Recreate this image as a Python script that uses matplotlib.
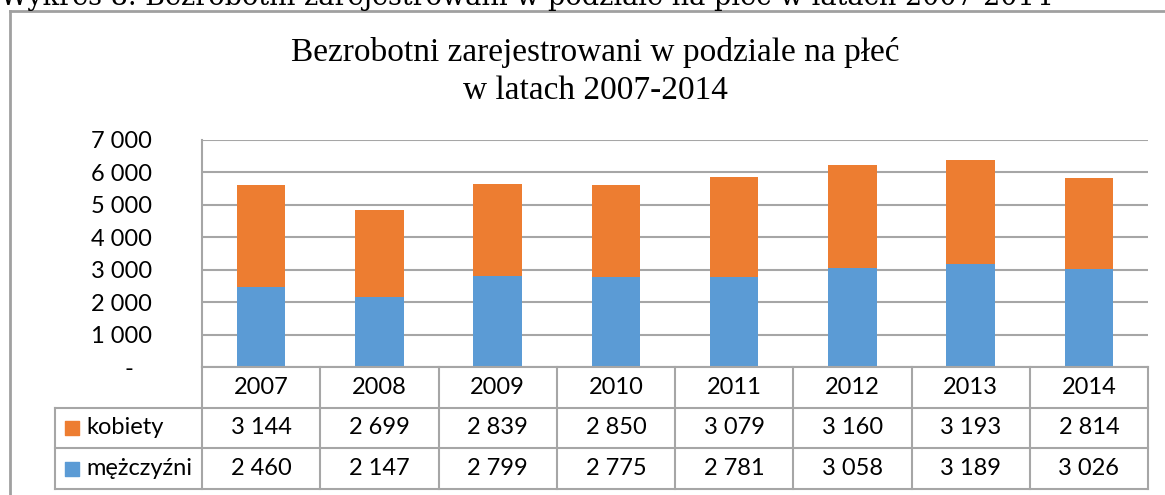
import matplotlib
matplotlib.use("Agg")
import matplotlib.pyplot as plt
from matplotlib.lines import Line2D
from matplotlib.ticker import FuncFormatter

# dane
years = ["2007", "2008", "2009", "2010", "2011", "2012", "2013", "2014"]
kobiety = [3144, 2699, 2839, 2850, 3079, 3160, 3193, 2814]
mezczyzni = [2460, 2147, 2799, 2775, 2781, 3058, 3189, 3026]
series_names = ["kobiety", "mężczyźni"]
yticks = [0, 1000, 2000, 3000, 4000, 5000, 6000, 7000]

BLUE = "#5B9BD5"
ORANGE = "#ED7D31"
GRID = "#A6A6A6"
FRAME = "#A0A0A0"
SANS = ["Lato", "DejaVu Sans"]

W, H = 1165, 495
fig = plt.figure(figsize=(W / 100, H / 100), dpi=100)


def fx(px):
    return px / W


def fy(py):
    return 1 - py / H


def fmt(v):
    return f"{v:,}".replace(",", " ")


# podpis nad wykresem (ucięty u góry)
fig.text(fx(0), fy(5), "Wykres 8. Bezrobotni zarejestrowani w podziale na płeć w latach 2007-2014",
         family="DejaVu Serif", fontsize=19.5, ha="left", va="baseline")

# ramka obszaru wykresu
fig.add_artist(Line2D([fx(10), fx(1165)], [fy(11), fy(11)], color=FRAME, lw=2))
fig.add_artist(Line2D([fx(10), fx(10)], [fy(11), fy(495)], color=FRAME, lw=2))

# tytuł (dwie linie)
fig.text(fx(595), fy(61), "Bezrobotni zarejestrowani w podziale na płeć",
         family="Liberation Serif", fontsize=24, ha="center", va="baseline")
fig.text(fx(595), fy(99), "w latach 2007-2014",
         family="Liberation Serif", fontsize=24, ha="center", va="baseline")

# słupki
ax = fig.add_axes([fx(202), fy(367), fx(1148) - fx(202), (367 - 140) / H])
x = list(range(len(years)))
ax.bar(x, mezczyzni, width=0.41, color=BLUE, zorder=3)
ax.bar(x, kobiety, width=0.41, bottom=mezczyzni, color=ORANGE, zorder=3)
ax.set_xlim(-0.5, len(years) - 0.5)
ax.set_ylim(0, 7000)
ax.set_yticks(yticks)
ax.yaxis.set_major_formatter(FuncFormatter(lambda v, p: "-   " if v == 0 else fmt(int(v))))
ax.yaxis.grid(True, color=GRID, lw=1.5, zorder=0)
ax.set_xticks([])
ax.tick_params(axis="y", length=0, pad=36, labelsize=17)
for lab in ax.get_yticklabels():
    lab.set_family(SANS)
for s in ["top", "right", "bottom"]:
    ax.spines[s].set_visible(False)
ax.spines["left"].set_color(GRID)
ax.spines["left"].set_linewidth(1.5)

# tabela danych
tab = fig.add_axes([fx(202), fy(489), fx(1148) - fx(202), (489 - 367) / H])
tab.set_xlim(-0.5, len(years) - 0.5)
tab.set_ylim(3, 0)
tab.axis("off")
unit = (1148 - 202) / len(years)
lx = -0.5 - (202 - 55) / unit
lw = 1.5
tab.plot([-0.5, len(years) - 0.5], [0, 0], color=GRID, lw=lw, clip_on=False)
for r in [1, 2, 3]:
    tab.plot([lx, len(years) - 0.5], [r, r], color=GRID, lw=lw, clip_on=False)
for i in range(len(years) + 1):
    tab.plot([i - 0.5, i - 0.5], [0, 3], color=GRID, lw=lw, clip_on=False)
tab.plot([lx, lx], [1, 3], color=GRID, lw=lw, clip_on=False)

for i, yr in enumerate(years):
    tab.text(i, 0.5, yr, ha="center", va="center", fontsize=17, family=SANS)
    tab.text(i, 1.5, fmt(kobiety[i]), ha="center", va="center", fontsize=17, family=SANS)
    tab.text(i, 2.5, fmt(mezczyzni[i]), ha="center", va="center", fontsize=17, family=SANS)

sq_x = -0.5 - (202 - 71.5) / unit
txt_x = -0.5 - (202 - 86) / unit
for r, (name, col) in enumerate(zip(series_names, [ORANGE, BLUE]), start=1):
    tab.scatter([sq_x], [r + 0.5], marker="s", s=115, color=col, clip_on=False)
    tab.text(txt_x, r + 0.5, name, ha="left", va="center", fontsize=17, family=SANS)

fig.savefig("out.png", dpi=100)
